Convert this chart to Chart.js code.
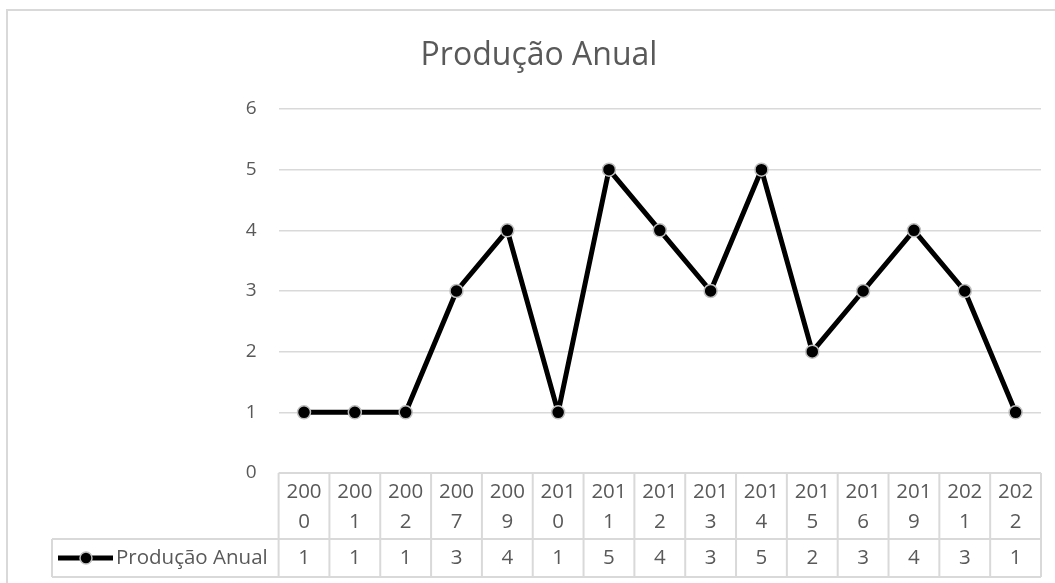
<!DOCTYPE html>
<html>
<head>
<meta charset="utf-8">
<script src="https://cdn.jsdelivr.net/npm/chart.js@4/dist/chart.umd.min.js"></script>
<style>
  html, body { margin: 0; padding: 0; background: #fff; }
  #wrap { width: 1055px; height: 583px; }
</style>
</head>
<body>
<div id="wrap"><canvas id="myChart" width="1055" height="583"></canvas></div>
<script>
// dados do gráfico
const years = ['2000', '2001', '2002', '2007', '2009', '2010', '2011', '2012', '2013', '2014', '2015', '2016', '2019', '2021', '2022'];
const production = [1, 1, 1, 3, 4, 1, 5, 4, 3, 5, 2, 3, 4, 3, 1];
const yTicks = [0, 1, 2, 3, 4, 5, 6];
const seriesName = 'Produção Anual';
const chartTitle = 'Produção Anual';

const FONT = '"Open Sans", "DejaVu Sans", sans-serif';
const TEXT = '#595959';
const LINE = '#d9d9d9';

// moldura do gráfico + título
const framePlugin = {
  id: 'frame',
  beforeDraw(chart) {
    const ctx = chart.ctx;
    ctx.save();
    ctx.fillStyle = '#fff';
    ctx.fillRect(0, 0, chart.width, chart.height);
    ctx.strokeStyle = LINE;
    ctx.lineWidth = 2;
    ctx.strokeRect(7, 10, 1200, 700);
    ctx.fillStyle = TEXT;
    ctx.font = '32px ' + FONT;
    ctx.textAlign = 'center';
    ctx.textBaseline = 'alphabetic';
    ctx.fillText(chartTitle, 539, 65);
    ctx.restore();
  }
};

// tabela de dados embaixo do eixo x
const tablePlugin = {
  id: 'dataTable',
  afterDraw(chart) {
    const { ctx, chartArea, scales: { x } } = chart;
    const half = (x.getPixelForValue(1) - x.getPixelForValue(0)) / 2;
    const left = x.getPixelForValue(0) - half;
    const right = x.getPixelForValue(years.length - 1) + half;
    const top = chartArea.bottom;
    const mid = top + 66;
    const bottom = mid + 38;
    const legendLeft = 52;

    ctx.save();
    ctx.strokeStyle = LINE;
    ctx.lineWidth = 2;
    ctx.beginPath();
    ctx.moveTo(left, top); ctx.lineTo(right, top);
    ctx.moveTo(legendLeft, mid); ctx.lineTo(right, mid);
    ctx.moveTo(legendLeft, bottom); ctx.lineTo(right, bottom);
    ctx.moveTo(legendLeft, mid); ctx.lineTo(legendLeft, bottom);
    for (let i = 0; i <= years.length; i++) {
      const px = left + i * half * 2;
      ctx.moveTo(px, top); ctx.lineTo(px, bottom);
    }
    ctx.stroke();

    ctx.fillStyle = TEXT;
    ctx.font = '20.5px ' + FONT;
    ctx.textAlign = 'center';
    ctx.textBaseline = 'middle';
    years.forEach((y, i) => {
      const cx = x.getPixelForValue(i);
      ctx.fillText(y.slice(0, 3), cx, top + 19);
      ctx.fillText(y.slice(3), cx, top + 49);
      ctx.fillText(String(production[i]), cx, (mid + bottom) / 2);
    });

    // chave da legenda
    const ly = (mid + bottom) / 2;
    ctx.strokeStyle = '#000';
    ctx.lineWidth = 5;
    ctx.beginPath();
    ctx.moveTo(58, ly); ctx.lineTo(113, ly);
    ctx.stroke();
    ctx.beginPath();
    ctx.arc(86, ly, 6, 0, Math.PI * 2);
    ctx.fillStyle = '#000';
    ctx.fill();
    ctx.lineWidth = 1.5;
    ctx.strokeStyle = '#bfbfbf';
    ctx.stroke();
    ctx.fillStyle = TEXT;
    ctx.textAlign = 'left';
    ctx.fillText(seriesName, 116, ly);
    ctx.restore();
  }
};

const ctx = document.getElementById('myChart').getContext('2d');
const myChart = new Chart(ctx, {
  type: 'line',
  data: {
    labels: years,
    datasets: [{
      label: seriesName,
      data: production,
      borderColor: '#000',
      borderWidth: 5,
      borderJoinStyle: 'round',
      tension: 0,
      pointRadius: 6.5,
      pointBackgroundColor: '#000',
      pointBorderColor: '#bfbfbf',
      pointBorderWidth: 1.5
    }]
  },
  options: {
    responsive: false,
    animation: false,
    layout: { padding: { top: 109, bottom: 110, left: 218.6, right: 14 } },
    plugins: {
      legend: { display: false },
      title: { display: false },
      tooltip: { enabled: false }
    },
    scales: {
      x: {
        type: 'category',
        display: false,
        offset: true
      },
      y: {
        min: yTicks[0],
        max: yTicks[yTicks.length - 1],
        afterFit(scale) { scale.width = 60; },
        afterBuildTicks(scale) { scale.ticks = yTicks.map(v => ({ value: v })); },
        ticks: {
          color: TEXT,
          font: { family: FONT, size: 19 },
          padding: 22
        },
        grid: { color: LINE, lineWidth: 1.5, drawTicks: false },
        border: { display: false }
      }
    }
  },
  plugins: [framePlugin, tablePlugin]
});
</script>
</body>
</html>
